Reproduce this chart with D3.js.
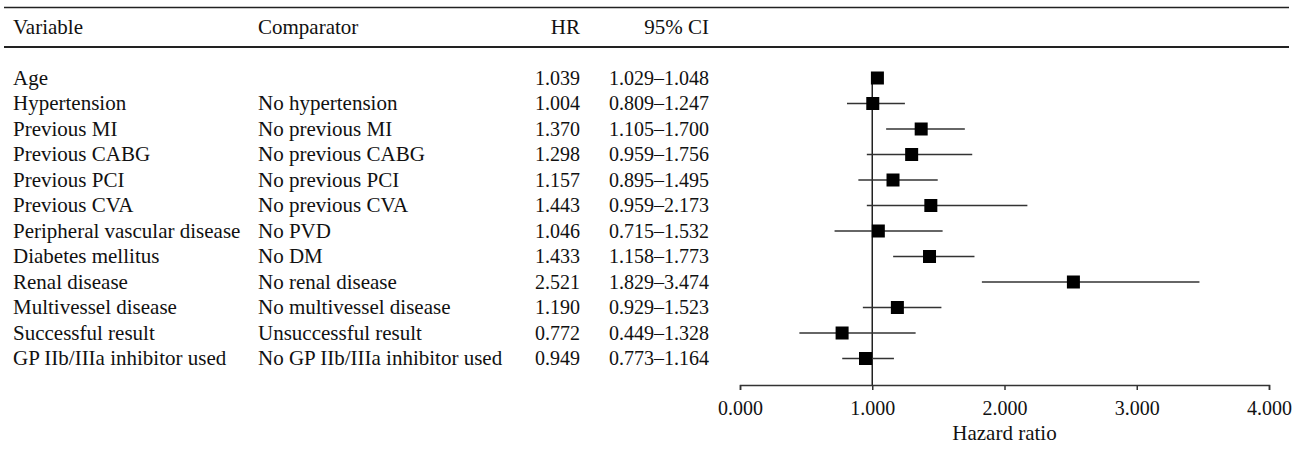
<!DOCTYPE html>
<html>
<head>
<meta charset="utf-8">
<script src="https://cdn.jsdelivr.net/npm/d3@7"></script>
<style>
  body { margin: 0; background: #fff; }
  text { font-family: "Liberation Serif", "DejaVu Serif", serif; fill: #111; }
</style>
</head>
<body>
<div id="chart"></div>
<script>
var variables = ["Age", "Hypertension", "Previous MI", "Previous CABG", "Previous PCI",
  "Previous CVA", "Peripheral vascular disease", "Diabetes mellitus", "Renal disease",
  "Multivessel disease", "Successful result", "GP IIb/IIIa inhibitor used"];
var comparators = ["", "No hypertension", "No previous MI", "No previous CABG", "No previous PCI",
  "No previous CVA", "No PVD", "No DM", "No renal disease",
  "No multivessel disease", "Unsuccessful result", "No GP IIb/IIIa inhibitor used"];
var hr = [1.039, 1.004, 1.370, 1.298, 1.157, 1.443, 1.046, 1.433, 2.521, 1.190, 0.772, 0.949];
var ciLow = [1.029, 0.809, 1.105, 0.959, 0.895, 0.959, 0.715, 1.158, 1.829, 0.929, 0.449, 0.773];
var ciHigh = [1.048, 1.247, 1.700, 1.756, 1.495, 2.173, 1.532, 1.773, 3.474, 1.523, 1.328, 1.164];
var xTicks = [0, 1, 2, 3, 4];

var width = 1300, height = 449;
var textSize = 21, numSize = 20;

var svg = d3.select("#chart").append("svg")
    .attr("width", width)
    .attr("height", height);

// x scale for hazard ratio
var x = d3.scaleLinear().domain([0, 4]).range([740, 1269]);
// rows
var y = d3.scalePoint().domain(d3.range(variables.length)).range([78, 358.5]);

// table rules
svg.append("line").attr("x1", 4).attr("x2", 1289).attr("y1", 7.5).attr("y2", 7.5)
    .attr("stroke", "#222").attr("stroke-width", 1.5);
svg.append("line").attr("x1", 4).attr("x2", 1289).attr("y1", 47).attr("y2", 47)
    .attr("stroke", "#222").attr("stroke-width", 1.8);

// header
var header = svg.append("g").attr("font-size", textSize);
header.append("text").attr("x", 13).attr("y", 34).text("Variable");
header.append("text").attr("x", 258).attr("y", 34).text("Comparator");
header.append("text").attr("x", 580).attr("y", 34).attr("text-anchor", "end").text("HR");
header.append("text").attr("x", 709).attr("y", 34).attr("text-anchor", "end").text("95% CI");

// table body
var rows = svg.selectAll(".row")
    .data(variables)
    .enter()
    .append("g")
    .attr("class", "row")
    .attr("transform", function(d, i) { return "translate(0," + (y(i) + 6.5) + ")"; });

rows.append("text").attr("x", 13).attr("font-size", textSize).text(function(d) { return d; });
rows.append("text").attr("x", 258).attr("font-size", textSize).text(function(d, i) { return comparators[i]; });
rows.append("text").attr("x", 580).attr("font-size", numSize).attr("text-anchor", "end")
    .text(function(d, i) { return hr[i].toFixed(3); });
rows.append("text").attr("x", 709).attr("font-size", numSize).attr("text-anchor", "end")
    .text(function(d, i) { return ciLow[i].toFixed(3) + "\u2013" + ciHigh[i].toFixed(3); });

// reference line at 1
svg.append("line")
    .attr("x1", x(1)).attr("x2", x(1))
    .attr("y1", 72).attr("y2", 385)
    .attr("stroke", "#222").attr("stroke-width", 1.5);

// confidence intervals
svg.selectAll(".ci")
    .data(hr)
    .enter()
    .append("line")
    .attr("class", "ci")
    .attr("x1", function(d, i) { return x(ciLow[i]); })
    .attr("x2", function(d, i) { return x(ciHigh[i]); })
    .attr("y1", function(d, i) { return y(i); })
    .attr("y2", function(d, i) { return y(i); })
    .attr("stroke", "#333").attr("stroke-width", 1.7);

// point estimates
var sq = 13;
svg.selectAll(".pt")
    .data(hr)
    .enter()
    .append("rect")
    .attr("class", "pt")
    .attr("x", function(d) { return x(d) - sq / 2; })
    .attr("y", function(d, i) { return y(i) - sq / 2; })
    .attr("width", sq).attr("height", sq)
    .attr("fill", "#000");

// axis
var axis = svg.append("g")
    .attr("transform", "translate(0,385)")
    .call(d3.axisBottom(x).tickValues(xTicks).tickSize(5).tickFormat(d3.format(".3f")));
axis.selectAll("path, line").attr("stroke", "#333").attr("stroke-width", 1.5);
axis.selectAll("text")
    .attr("font-size", numSize)
    .attr("font-family", "Liberation Serif, serif")
    .attr("fill", "#111")
    .attr("dy", "1.1em");

svg.append("text")
    .attr("x", (x(0) + x(4)) / 2)
    .attr("y", 440)
    .attr("text-anchor", "middle")
    .attr("font-size", textSize)
    .text("Hazard ratio");
</script>
</body>
</html>
